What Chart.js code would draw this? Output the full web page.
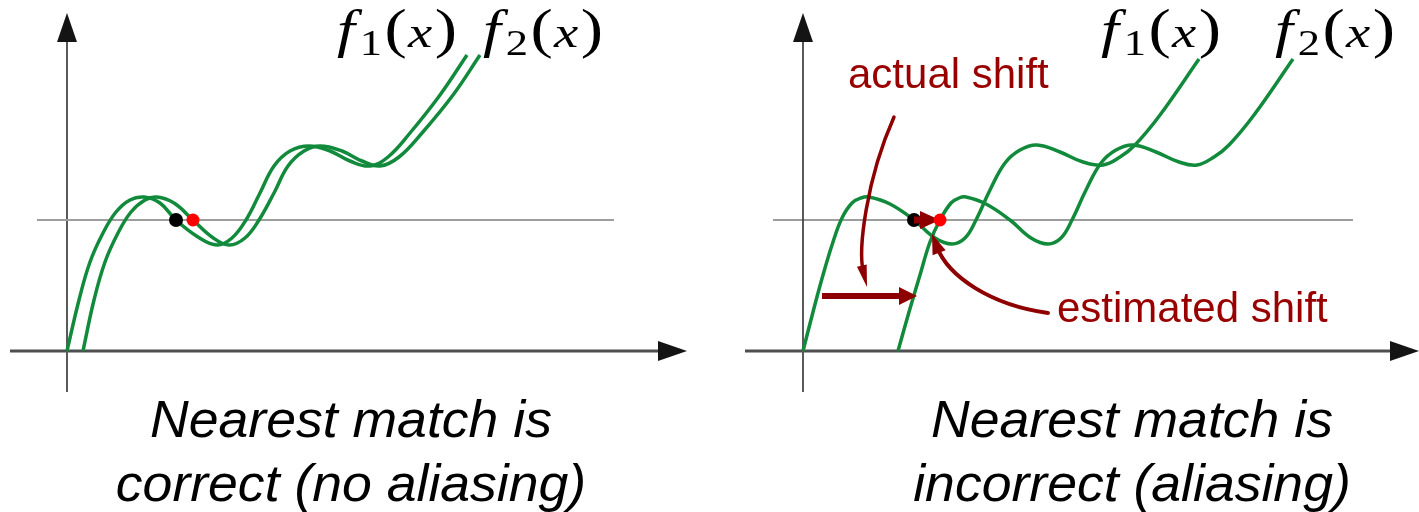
<!DOCTYPE html>
<html><head><meta charset="utf-8">
<script src="https://cdn.jsdelivr.net/npm/chart.js@4.4.1/dist/chart.umd.min.js"></script>
<style>
html,body{margin:0;padding:0;background:#fff;overflow:hidden}
#wrap{position:relative;width:1419px;height:512px}
canvas{position:absolute;top:0}
</style></head><body>
<div id="wrap">
<canvas id="cLeft" width="710" height="512" style="left:0"></canvas>
<canvas id="cRight" width="709" height="512" style="left:710px"></canvas>
</div>
<script>
// Sampled curves (x, y) in axis units, origin at the axes' crossing.
const leftF1 = [[0,0],[1.2,5.1],[2.3,8.9],[3.6,11.8],[4.9,13.9],[6.3,15.1],[7.7,15.4],[9.3,14.8],[10.9,13.1],[13.1,11.4],[15.0,10.6],[16.5,11.3],[17.9,13.1],[19.3,15.8],[20.7,18.5],[22.3,20.0],[24.2,20.5],[26.3,20.0],[28.3,19.0],[30.3,18.5],[32.1,19.4],[34.3,21.8],[37.3,25.6],[40.0,29.6]];
const leftF2 = [[1.6,0],[2.7,5.1],[3.8,8.9],[5.1,11.8],[6.4,13.9],[7.8,15.1],[9.0,15.4],[10.7,14.8],[12.6,13.1],[14.5,11.4],[16.2,10.6],[17.8,11.3],[19.2,13.1],[20.7,15.8],[22.1,18.5],[23.7,20.0],[25.3,20.5],[27.5,20.0],[29.5,19.0],[31.3,18.5],[33.2,19.4],[35.5,21.8],[38.6,25.6],[41.3,29.6]];
const rightF1 = [[0,0],[1.0,3.9],[2.0,7.6],[3.0,10.9],[3.9,13.3],[4.9,14.8],[5.8,15.3],[6.6,15.4],[8.7,14.7],[11.1,13.1],[13.2,11.3],[14.9,10.7],[16.2,11.3],[17.3,13.1],[18.7,16.1],[20.2,18.8],[21.7,20.1],[23.4,20.6],[25.7,19.9],[28.0,18.9],[30.0,18.6],[31.7,19.4],[33.2,20.6],[35.7,23.6],[39.6,29.2]];
const rightF2 = [[9.5,0],[10.6,3.9],[11.7,7.6],[12.7,10.9],[13.7,13.1],[14.8,14.8],[15.6,15.3],[16.3,15.4],[18.3,14.7],[20.7,13.1],[22.8,11.3],[24.5,10.7],[25.8,11.3],[26.9,13.1],[28.3,16.1],[29.8,18.8],[31.3,20.1],[33.0,20.6],[35.3,19.9],[37.6,18.9],[39.4,18.6],[41.1,19.4],[42.6,20.6],[45.1,23.6],[49.0,29.2]];

// Horizontal matching level and the points found on it
const matchLevel = 13.1;
const leftQuery = [[10.9, 13.1]];
const leftFound = [[12.6, 13.1]];
const rightQuery = [[11.1, 13.1]];
const rightFound = [[13.7, 13.1]];

// Reference-level segments
const leftLevelLine = [[-3.0, 13.1], [54.7, 13.1]];
const rightLevelLine = [[-3.0, 13.1], [55.0, 13.1]];

// Text
const curveNames = ['1', '2'];
const leftCaption = ['Nearest match is', 'correct (no aliasing)'];
const rightCaption = ['Nearest match is', 'incorrect (aliasing)'];
const actualShiftText = 'actual shift';
const estimatedShiftText = 'estimated shift';

const GREEN = '#128a3c';
const DARKRED = '#990000';
const ARROWRED = '#8e0000';

function toXY(arr){ return arr.map(p => ({x: p[0], y: p[1]})); }

function P(chart, x, y){
  return [chart.scales.x.getPixelForValue(x), chart.scales.y.getPixelForValue(y)];
}

function arrowHead(ctx, tip, dir, len, half, color){
  const ang = Math.atan2(dir[1], dir[0]);
  ctx.save();
  ctx.translate(tip[0], tip[1]);
  ctx.rotate(ang);
  ctx.beginPath();
  ctx.moveTo(0, 0);
  ctx.lineTo(-len, -half);
  ctx.lineTo(-len, half);
  ctx.closePath();
  ctx.fillStyle = color;
  ctx.fill();
  ctx.restore();
}

function straightArrow(ctx, a, b, width, len, half, color, lineColor){
  const dx = b[0]-a[0], dy = b[1]-a[1];
  const d = Math.hypot(dx, dy);
  const ex = b[0] - dx/d*(len-2), ey = b[1] - dy/d*(len-2);
  ctx.save();
  ctx.strokeStyle = lineColor || color;
  ctx.lineWidth = width;
  ctx.lineCap = 'butt';
  ctx.beginPath();
  ctx.moveTo(a[0], a[1]);
  ctx.lineTo(ex, ey);
  ctx.stroke();
  ctx.restore();
  arrowHead(ctx, b, [dx, dy], len, half, color);
}

function curvedArrow(ctx, p0, p1, p2, p3, width, len, half, color){
  ctx.save();
  ctx.strokeStyle = color;
  ctx.lineWidth = width;
  ctx.lineCap = 'round';
  const dx = p3[0]-p2[0], dy = p3[1]-p2[1];
  const d = Math.hypot(dx, dy);
  const e = [p3[0]-dx/d*(len*0.7), p3[1]-dy/d*(len*0.7)];
  ctx.beginPath();
  ctx.moveTo(p0[0], p0[1]);
  ctx.bezierCurveTo(p1[0], p1[1], p2[0], p2[1], e[0], e[1]);
  ctx.stroke();
  ctx.restore();
  arrowHead(ctx, p3, [dx, dy], len, half, color);
}

// f_n(x) in a serif math style
function mathLabel(ctx, x, y, sub, width){
  const parts = [
    {t:'f', f:'italic 52px "Liberation Serif"', dy:0, gap:4},
    {t:sub, f:'36px "Liberation Serif"', dy:8, gap:2},
    {t:'(', f:'54px "Liberation Serif"', dy:0, gap:1},
    {t:'x', f:'italic 44px "Liberation Serif"', dy:0, gap:2},
    {t:')', f:'54px "Liberation Serif"', dy:0, gap:0}
  ];
  let total = 0;
  parts.forEach(p => { ctx.font = p.f; p.w = ctx.measureText(p.t).width; total += p.w + p.gap; });
  ctx.save();
  ctx.translate(x, y);
  ctx.scale(width/total, 1);
  ctx.fillStyle = '#000';
  ctx.textBaseline = 'alphabetic';
  ctx.textAlign = 'left';
  let cx = 0;
  parts.forEach(p => { ctx.font = p.f; ctx.fillText(p.t, cx, p.dy); cx += p.w + p.gap; });
  ctx.restore();
}

function caption(ctx, cx, lines){
  ctx.save();
  ctx.fillStyle = '#000';
  ctx.textAlign = 'center';
  ctx.textBaseline = 'alphabetic';
  ctx.font = 'italic 52px "Liberation Sans"';
  lines.forEach((s, i) => {
    ctx.save();
    ctx.translate(cx, 437 + i*64);
    ctx.scale(1.03, 1);
    ctx.fillText(s, 0, 0);
    ctx.restore();
  });
  ctx.restore();
}

const decorPlugin = {
  id: 'decor',
  beforeDatasetsDraw(chart, args, opts){
    const ctx = chart.ctx;
    // axes with arrow tips
    const xa0 = P(chart, opts.xAxis[0], 0), xa1 = P(chart, opts.xAxis[1], 0);
    const ya0 = P(chart, 0, opts.yAxis[0]), ya1 = P(chart, 0, opts.yAxis[1]);
    straightArrow(ctx, xa0, xa1, 3, 29, 10, '#141414', '#4f4f4f');
    straightArrow(ctx, ya0, ya1, 2, 29, 10, '#141414', '#5a5a5a');
  },
  beforeDatasetDraw(chart, args, opts){
    const ds = chart.data.datasets[args.index];
    if (ds.label === 'found' && opts.annotate){
      // short arrow between the two matched points
      const q = rightQuery[0], f = rightFound[0];
      straightArrow(chart.ctx, P(chart, q[0], q[1]), P(chart, f[0], f[1]), 7, 20, 9, ARROWRED);
    }
  },
  afterDatasetsDraw(chart, args, opts){
    const ctx = chart.ctx;
    mathLabel(ctx, ...P(chart, opts.label1[0], opts.label1[1]), curveNames[0], 120);
    mathLabel(ctx, ...P(chart, opts.label2[0], opts.label2[1]), curveNames[1], 120);
    caption(ctx, P(chart, opts.captionX, 0)[0], opts.caption);
    if (opts.annotate){
      ctx.save();
      ctx.fillStyle = DARKRED;
      ctx.font = '42px "Liberation Sans"';
      ctx.textAlign = 'left';
      ctx.fillText(actualShiftText, ...P(chart, 4.5, 26.3));
      ctx.fillText(estimatedShiftText, ...P(chart, 25.4, 2.9));
      ctx.restore();
      // pointer from "actual shift" down to the shift arrow
      curvedArrow(ctx, P(chart, 9.1, 23.4), P(chart, 6.3, 17.1), P(chart, 5.5, 10.1), P(chart, 6.4, 6.4), 3.5, 22, 5, ARROWRED);
      // actual shift between the curves
      straightArrow(ctx, P(chart, 1.9, 5.5), P(chart, 11.4, 5.5), 6, 18, 9, ARROWRED);
      // pointer from "estimated shift" up to the found point
      curvedArrow(ctx, P(chart, 24.5, 3.8), P(chart, 18.7, 4.6), P(chart, 14.5, 7.5), P(chart, 12.9, 11.7), 4, 20, 7, ARROWRED);
    }
  }
};

function makePanel(id, xMin, xMax, f1, f2, query, found, level, decor){
  const lineDs = (label, data) => ({
    label, data: toXY(data), borderColor: GREEN, borderWidth: 3.5,
    pointRadius: 0, tension: 0.4, fill: false, order: 2
  });
  new Chart(document.getElementById(id), {
    type: 'line',
    data: {
      datasets: [
        {label:'found', data: toXY(found), showLine:false, pointRadius:6.5, pointBackgroundColor:'#ff0000', pointBorderWidth:0, order:0},
        {label:'query', data: toXY(query), showLine:false, pointRadius:7, pointBackgroundColor:'#000000', pointBorderWidth:0, order:1},
        lineDs('f1', f1),
        lineDs('f2', f2),
        {label:'level', data: toXY(level), borderColor: decor.levelColor, borderWidth: decor.levelWidth, pointRadius:0, order:3}
      ]
    },
    options: {
      responsive: false,
      animation: false,
      devicePixelRatio: 1,
      layout: {padding: 0, autoPadding: false},
      events: [],
      scales: {
        x: {type:'linear', min:xMin, max:xMax, display:false},
        y: {type:'linear', min:-16.1, max:35.1, display:false}
      },
      plugins: {
        legend: {display:false},
        tooltip: {enabled:false},
        decor
      }
    },
    plugins: [decorPlugin]
  });
}

makePanel('cLeft', -6.7, 64.3, leftF1, leftF2, leftQuery, leftFound, leftLevelLine, {
  xAxis: [-5.7, 62.0], yAxis: [-4.1, 33.8], levelColor: '#9e9e9e', levelWidth: 2,
  label1: [27.0, 30.4], label2: [41.6, 30.4], captionX: 28.4, caption: leftCaption, annotate: false
});
makePanel('cRight', -9.3, 61.6, rightF1, rightF2, rightQuery, rightFound, rightLevelLine, {
  xAxis: [-5.8, 61.6], yAxis: [-4.1, 33.8], levelColor: '#3a3a3a', levelWidth: 1,
  label1: [29.8, 30.4], label2: [47.2, 30.4], captionX: 32.9, caption: rightCaption, annotate: true
});
</script>
</body></html>
